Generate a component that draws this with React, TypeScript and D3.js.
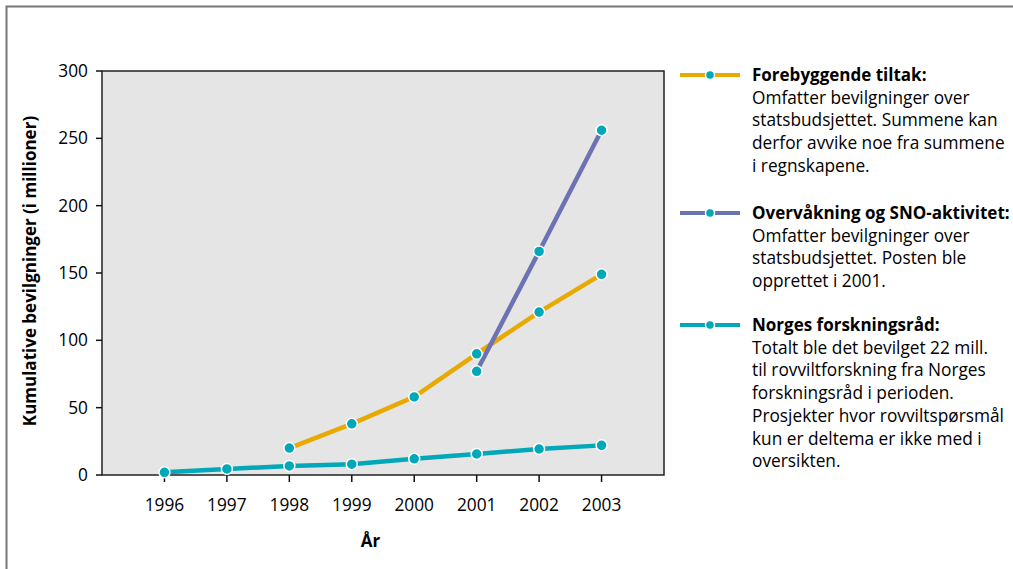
import React from "react";
import * as d3 from "d3";

const years = [1996, 1997, 1998, 1999, 2000, 2001, 2002, 2003];
const yTicks = [0, 50, 100, 150, 200, 250, 300];
const forebyggendeYears = [1998, 1999, 2000, 2001, 2002, 2003];
const forebyggendeValues = [20, 38, 58, 90, 121, 149];
const overvakningYears = [2001, 2002, 2003];
const overvakningValues = [77, 166, 256];
const forskningYears = [1996, 1997, 1998, 1999, 2000, 2001, 2002, 2003];
const forskningValues = [2, 4.5, 6.7, 8, 12, 15.6, 19.3, 22];

const series = [
  { name: "Forebyggende tiltak:", years: forebyggendeYears, values: forebyggendeValues, color: "#e8a900",
    lines: ["Omfatter bevilgninger over", "statsbudsjettet. Summene kan", "derfor avvike noe fra summene", "i regnskapene."] },
  { name: "Overvåkning og SNO-aktivitet:", years: overvakningYears, values: overvakningValues, color: "#6b73b2",
    lines: ["Omfatter bevilgninger over", "statsbudsjettet. Posten ble", "opprettet i 2001."] },
  { name: "Norges forskningsråd:", years: forskningYears, values: forskningValues, color: "#00a8ba",
    lines: ["Totalt ble det bevilget 22 mill.", "til rovviltforskning fra Norges", "forskningsråd i perioden.", "Prosjekter hvor rovviltspørsmål", "kun er deltema er ikke med i", "oversikten."] },
];

const markerColor = "#00a8ba";
const font = "'Open Sans', 'Noto Sans', sans-serif";

export default function App() {
  const W = 1013, H = 569;
  const x = d3.scaleLinear().domain([1995, 2004]).range([102, 664]);
  const y = d3.scaleLinear().domain([0, 300]).range([475, 71]);
  const line = d3.line<[number, number]>().x(d => x(d[0])).y(d => y(d[1]));
  const legendTop = [75, 213, 325];
  const lh = 22.7;

  return (
    <svg width={W} height={H} style={{ position: "absolute", left: 0, top: 0, fontFamily: font }}>
      <rect x={0} y={0} width={W} height={H} fill="#fff" />
      <path d={`M6.5,${H + 2} V6.5 H${W + 2}`} fill="none" stroke="#777" strokeWidth={2} />
      <rect x={x(1995)} y={y(300)} width={x(2004) - x(1995)} height={y(0) - y(300)} fill="#e5e5e5" stroke="#222" strokeWidth={1.5} />
      {yTicks.map(t => (
        <g key={t}>
          <line x1={x(1995) - 6} x2={x(1995)} y1={y(t)} y2={y(t)} stroke="#111" strokeWidth={1.5} />
          <text x={x(1995) - 14} y={y(t)} dy="0.35em" textAnchor="end" fontSize={17.3} fill="#000">{t}</text>
        </g>
      ))}
      {years.map(t => (
        <g key={t}>
          <line x1={x(t)} x2={x(t)} y1={y(0)} y2={y(0) + 7} stroke="#111" strokeWidth={1.5} />
          <text x={x(t)} y={y(0) + 30} dy="0.35em" textAnchor="middle" fontSize={17.3} fill="#000">{t}</text>
        </g>
      ))}
      <text x={x(1999.3)} y={541} dy="0.35em" textAnchor="middle" fontSize={17} fontWeight="bold" fill="#000">År</text>
      <text transform={`translate(30,${y(150) - 2}) rotate(-90)`} dy="0.35em" textAnchor="middle" fontSize={17} fontWeight="bold" fill="#000">
        Kumulative bevilgninger (i millioner)
      </text>
      {series.map(s => (
        <path key={s.name} d={line(s.years.map((yr, i) => [yr, s.values[i]] as [number, number])) || ""} fill="none" stroke={s.color} strokeWidth={4.5} />
      ))}
      {series.map(s => s.years.map((yr, i) => (
        <circle key={s.name + yr} cx={x(yr)} cy={y(s.values[i])} r={5.5} fill={markerColor} stroke="#fff" strokeWidth={1.5} />
      )))}
      {series.map((s, k) => (
        <g key={s.name}>
          <line x1={680} x2={740} y1={legendTop[k]} y2={legendTop[k]} stroke={s.color} strokeWidth={4} />
          <circle cx={710} cy={legendTop[k]} r={4.5} fill={markerColor} stroke="#fff" strokeWidth={1.5} />
          <text x={752} y={legendTop[k]} dy="0.35em" fontSize={17} fontWeight="bold" fill="#000">{s.name}</text>
          {s.lines.map((l, j) => (
            <text key={j} x={752} y={legendTop[k] + lh * (j + 1)} dy="0.35em" fontSize={17.3} fill="#000">{l}</text>
          ))}
        </g>
      ))}
    </svg>
  );
}
